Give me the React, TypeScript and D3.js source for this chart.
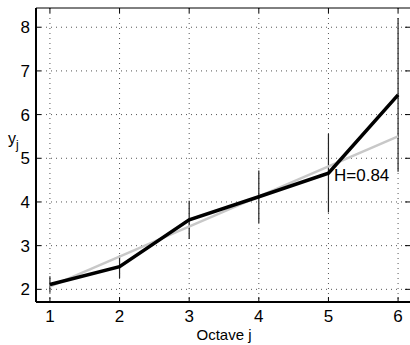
import React, { useEffect, useRef } from 'react';
import * as d3 from 'd3';

// octave estimates
const octaves = [1, 2, 3, 4, 5, 6];
const yj = [2.11, 2.52, 3.59, 4.12, 4.66, 6.45];
const errHalf = [0.19, 0.26, 0.44, 0.6, 0.9, 1.76];
const fitX = [1, 6];
const fitY = [2.06, 5.5];
const xTicks = [1, 2, 3, 4, 5, 6];
const yTicks = [2, 3, 4, 5, 6, 7, 8];
const hLabel = 'H=0.84';

const App = () => {
  const svgRef = useRef<SVGSVGElement>(null);

  useEffect(() => {
    const W = 410, H = 345;
    const left = 36, top = 8, right = 412, bottom = 302;
    const font = 'Liberation Sans, Arial, sans-serif';

    const x = d3.scaleLinear().domain([0.8, 6.2]).range([left, right]);
    const y = d3.scaleLinear().domain([1.71, 8.44]).range([bottom, top]);

    const svg = d3.select(svgRef.current);
    svg.selectAll('*').remove();
    svg.attr('width', W).attr('height', H);

    svg.append('rect').attr('width', W).attr('height', H).attr('fill', '#fff');

    // dotted grid
    const grid = svg.append('g').attr('stroke', '#555').attr('stroke-width', 1).attr('stroke-dasharray', '1,4');
    grid.selectAll('.gx').data(xTicks).enter().append('line')
      .attr('x1', d => x(d)).attr('x2', d => x(d)).attr('y1', top).attr('y2', bottom);
    grid.selectAll('.gy').data(yTicks).enter().append('line')
      .attr('x1', left).attr('x2', right).attr('y1', d => y(d)).attr('y2', d => y(d));

    // error bars
    svg.append('g').selectAll('line').data(octaves).enter().append('line')
      .attr('x1', d => x(d)).attr('x2', d => x(d))
      .attr('y1', (d, i) => y(yj[i] + errHalf[i]))
      .attr('y2', (d, i) => y(yj[i] - errHalf[i]))
      .attr('stroke', '#222').attr('stroke-width', 1.2);

    // regression line
    svg.append('path')
      .datum(fitX.map((v, i) => [v, fitY[i]] as [number, number]))
      .attr('d', d3.line().x(d => x(d[0])).y(d => y(d[1])))
      .attr('fill', 'none').attr('stroke', '#c8c8c8').attr('stroke-width', 2.5);

    // log-scale diagram
    svg.append('path')
      .datum(octaves.map((v, i) => [v, yj[i]] as [number, number]))
      .attr('d', d3.line().x(d => x(d[0])).y(d => y(d[1])))
      .attr('fill', 'none').attr('stroke', '#000').attr('stroke-width', 3.5)
      .attr('stroke-linejoin', 'miter');

    // axes box
    const box = svg.append('g').attr('stroke', '#000');
    box.append('line').attr('x1', left).attr('x2', right).attr('y1', top).attr('y2', top).attr('stroke-width', 1);
    box.append('line').attr('x1', left).attr('x2', left).attr('y1', top).attr('y2', bottom).attr('stroke-width', 2);
    box.append('line').attr('x1', left).attr('x2', right).attr('y1', bottom).attr('y2', bottom).attr('stroke-width', 2);

    // inward ticks
    const tk = 5;
    xTicks.forEach(t => {
      box.append('line').attr('x1', x(t)).attr('x2', x(t)).attr('y1', bottom).attr('y2', bottom - tk);
      box.append('line').attr('x1', x(t)).attr('x2', x(t)).attr('y1', top).attr('y2', top + tk);
    });
    yTicks.forEach(t => {
      box.append('line').attr('x1', left).attr('x2', left + tk).attr('y1', y(t)).attr('y2', y(t));
      box.append('line').attr('x1', right - tk - 2).attr('x2', right).attr('y1', y(t)).attr('y2', y(t));
    });

    // tick labels
    svg.append('g').selectAll('text').data(xTicks).enter().append('text')
      .attr('x', d => x(d)).attr('y', 322).attr('text-anchor', 'middle')
      .attr('font-family', font).attr('font-size', 17).text(d => d);
    svg.append('g').selectAll('text').data(yTicks).enter().append('text')
      .attr('x', 30).attr('y', d => y(d) + 6).attr('text-anchor', 'end')
      .attr('font-family', font).attr('font-size', 17).text(d => d);

    // axis labels
    svg.append('text').attr('x', 224).attr('y', 340).attr('text-anchor', 'middle')
      .attr('font-family', font).attr('font-size', 15).text('Octave j');
    const yl = svg.append('text').attr('x', 8).attr('y', 144)
      .attr('font-family', font).attr('font-size', 16);
    yl.append('tspan').text('y');
    yl.append('tspan').attr('dy', 5).attr('font-size', 12).text('j');

    svg.append('text').attr('x', 334).attr('y', 181)
      .attr('font-family', font).attr('font-size', 17).text(hLabel);
  }, []);

  return <svg ref={svgRef} style={{ position: 'absolute', left: 0, top: 0 }}></svg>;
};

export default App;
